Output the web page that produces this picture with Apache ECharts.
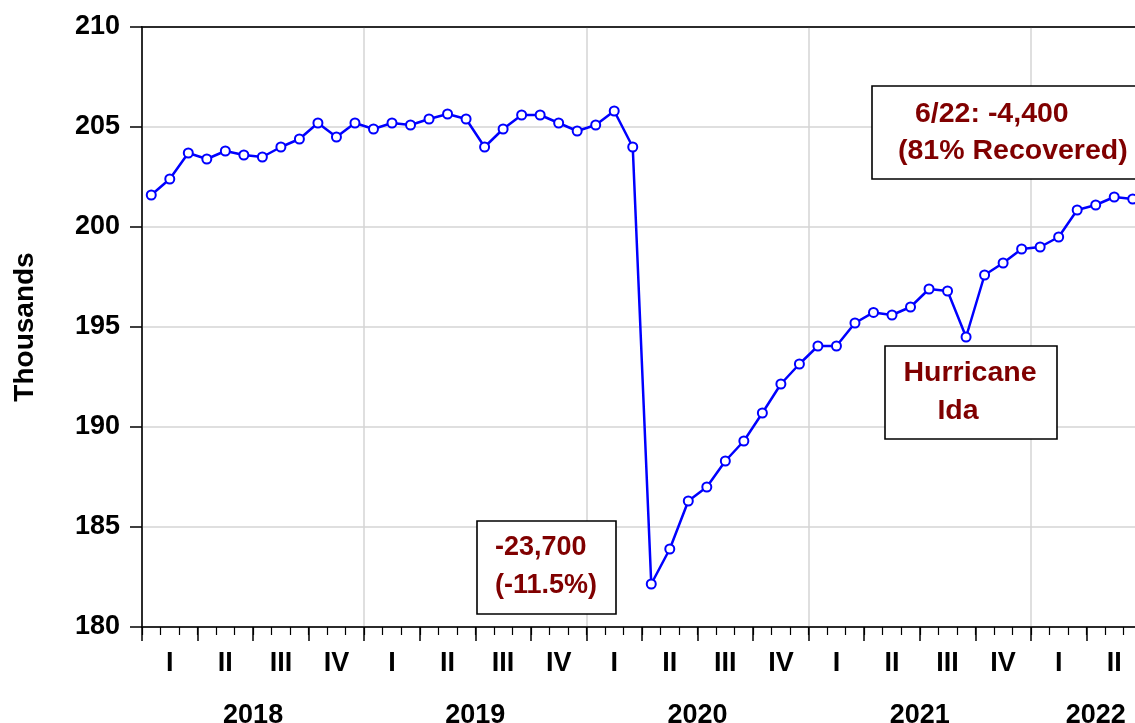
<!DOCTYPE html>
<html>
<head>
<meta charset="utf-8">
<script src="https://cdn.jsdelivr.net/npm/echarts@6/dist/echarts.min.js"></script>
<style>
    html, body {
        margin: 0;
        padding: 0;
        background: #fff;
        overflow: hidden;
    }
    /* plot runs a little past the right edge, like the original */
    #chart {
        width: 1143px;
        height: 723px;
    }
</style>
</head>
<body>
<div id="chart"></div>
<script>
// monthly values, Jan 2018 .. Jun 2022 (thousands)
const v2018 = [201.6, 202.4, 203.7, 203.4, 203.8, 203.6, 203.5, 204.0, 204.4, 205.2, 204.5, 205.2];
const v2019 = [204.9, 205.2, 205.1, 205.4, 205.65, 205.4, 204.0, 204.9, 205.6, 205.6, 205.2, 204.8];
const v2020 = [205.1, 205.8, 204.0, 182.15, 183.9, 186.3, 187.0, 188.3, 189.3, 190.7, 192.15, 193.15];
const v2021 = [194.05, 194.05, 195.2, 195.73, 195.6, 196.0, 196.9, 196.8, 194.5, 197.6, 198.2, 198.9];
const v2022 = [199.0, 199.5, 200.85, 201.1, 201.5, 201.4];

const quarterLabels = ['I', 'II', 'III', 'IV', 'I', 'II', 'III', 'IV', 'I', 'II', 'III', 'IV',
    'I', 'II', 'III', 'IV', 'I', 'II'];
const yearLabels = ['2018', '2019', '2020', '2021', '2022'];
const yearLabelPos = [6, 18, 30, 42, 51.5]; // months from Jan 2018
const yTicks = [180, 185, 190, 195, 200, 205, 210];

const values = [].concat(v2018, v2019, v2020, v2021, v2022);
// point sits in the middle of its month
const seriesData = values.map((v, i) => [i + 0.5, v]);

const myChart = echarts.init(document.getElementById('chart'));
const fontFamily = '"Liberation Sans", Arial, sans-serif';
const darkRed = '#800000';
const gridGray = '#d4d4d4';

function box(x, y, w, h, size, lines) {
    const children = [{
        type: 'rect',
        z: 100,
        shape: { x: x, y: y, width: w, height: h },
        style: { fill: '#fff', stroke: '#000', lineWidth: 1.6 }
    }];
    lines.forEach(l => {
        children.push({
            type: 'text',
            z: 101,
            x: l.x,
            y: l.y,
            style: {
                text: l.text,
                fill: darkRed,
                font: 'bold ' + size + 'px ' + fontFamily,
                align: l.align || 'left',
                verticalAlign: 'middle'
            }
        });
    });
    return { type: 'group', children: children };
}

const tickFont = {
    color: '#000',
    fontSize: 27,
    fontWeight: 'bold',
    fontFamily: fontFamily
};

const option = {
    backgroundColor: '#fff',
    animation: false,
    grid: {
        left: 142,
        top: 27,
        width: 1000,
        height: 600,
        outerBoundsMode: 'none',
        containLabel: false,
        show: true,
        borderColor: '#000',
        borderWidth: 1.5
    },
    xAxis: [
        {
            // month ticks, carries the series
            type: 'value',
            min: 0,
            max: 54,
            interval: 1,
            position: 'bottom',
            axisLine: { show: true, lineStyle: { color: '#000', width: 1.5 } },
            axisTick: { show: true, length: 8, lineStyle: { color: '#000', width: 1.2 } },
            axisLabel: { show: false },
            splitLine: { show: false }
        },
        {
            // quarter ticks + roman labels
            type: 'category',
            data: quarterLabels,
            boundaryGap: true,
            position: 'bottom',
            axisLine: { show: false },
            axisTick: { show: true, length: 14, interval: 0, lineStyle: { color: '#000', width: 1.5 } },
            axisLabel: Object.assign({ interval: 0, margin: 23 }, tickFont),
            splitLine: { show: false }
        },
        {
            // year gridlines + year labels
            type: 'value',
            min: 0,
            max: 54,
            interval: 12,
            position: 'bottom',
            axisLine: { show: false },
            axisTick: { show: false },
            axisLabel: Object.assign({
                customValues: yearLabelPos,
                formatter: v => yearLabels[yearLabelPos.indexOf(v)] || '',
                margin: 75
            }, tickFont),
            splitLine: { show: true, lineStyle: { color: gridGray, width: 1.5 } }
        },
        {
            // black frame line along the top
            type: 'value',
            min: 0,
            max: 54,
            position: 'top',
            axisLine: { show: true, lineStyle: { color: '#000', width: 1.5 } },
            axisTick: { show: false },
            axisLabel: { show: false },
            splitLine: { show: false },
            z: 10
        }
    ],
    yAxis: {
        type: 'value',
        min: yTicks[0],
        max: yTicks[yTicks.length - 1],
        interval: 5,
        name: 'Thousands',
        nameLocation: 'middle',
        nameGap: 103,
        nameRotate: 90,
        nameTextStyle: {
            color: '#000',
            fontSize: 28,
            fontWeight: 'bold',
            fontFamily: fontFamily
        },
        axisLine: { show: true, lineStyle: { color: '#000', width: 1.5 } },
        axisTick: { show: true, length: 12, lineStyle: { color: '#000', width: 1.5 } },
        axisLabel: Object.assign({ margin: 22 }, tickFont),
        splitLine: { show: true, lineStyle: { color: gridGray, width: 1.5 } }
    },
    series: [{
        type: 'line',
        xAxisIndex: 0,
        data: seriesData,
        symbol: 'emptyCircle',
        symbolSize: 9,
        lineStyle: { color: '#0000ff', width: 2.5 },
        itemStyle: { color: '#0000ff', borderColor: '#0000ff', borderWidth: 1.5 },
        z: 5
    }],
    graphic: [
        box(477, 521, 139, 93, 27, [
            { text: '-23,700', x: 495, y: 548 },
            { text: '(-11.5%)', x: 495, y: 586 }
        ]),
        box(872, 86, 280, 93, 28.5, [
            { text: '6/22: -4,400', x: 915, y: 114 },
            { text: '(81% Recovered)', x: 898, y: 151 }
        ]),
        box(885, 346, 172, 93, 28.5, [
            { text: 'Hurricane', x: 970, y: 373, align: 'center' },
            { text: 'Ida', x: 958, y: 411, align: 'center' }
        ])
    ]
};

myChart.setOption(option, true);
window.addEventListener('resize', () => {
    myChart.resize();
});
</script>
</body>
</html>
